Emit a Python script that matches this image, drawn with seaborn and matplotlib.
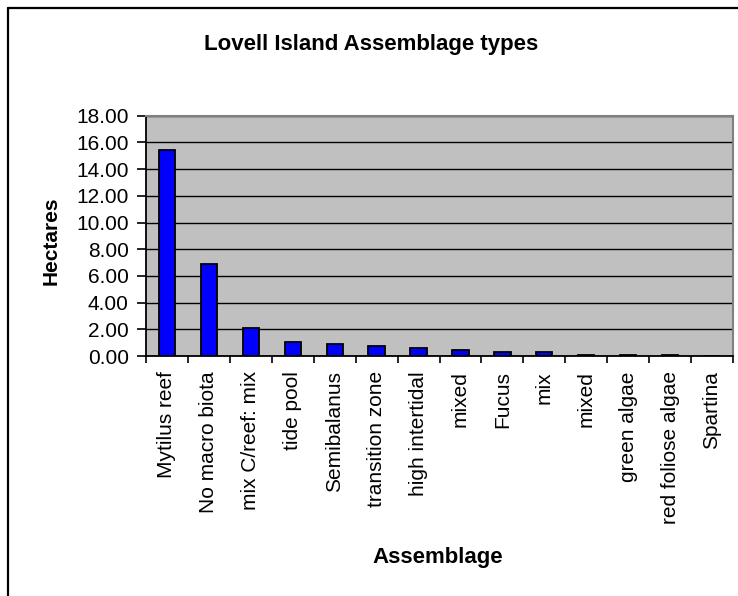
import numpy as np
import pandas as pd
import matplotlib
matplotlib.use("Agg")
import matplotlib.pyplot as plt
from matplotlib.lines import Line2D
import seaborn as sns

# Assemblage areas on Lovell Island (hectares)
assemblages = [
    "Mytilus reef", "No macro biota", "mix C/reef: mix", "tide pool",
    "Semibalanus", "transition zone", "high intertidal", "mixed",
    "Fucus", "mix", "mixed", "green algae", "red foliose algae", "Spartina",
]
hectares = [15.43, 6.92, 2.07, 1.02, 0.87, 0.72, 0.57, 0.42,
            0.28, 0.28, 0.10, 0.10, 0.10, 0.01]
y_ticks = [0, 2, 4, 6, 8, 10, 12, 14, 16, 18]

sns.set_theme(style="white")
plt.rcParams["font.family"] = ["Liberation Sans", "DejaVu Sans"]
plt.rcParams["text.color"] = "black"
plt.rcParams["axes.labelcolor"] = "black"
plt.rcParams["xtick.color"] = "black"
plt.rcParams["ytick.color"] = "black"

W, H = 738, 596
fig = plt.figure(figsize=(W / 100, H / 100), dpi=100)
fig.patch.set_facecolor("white")

# outer chart frame (left and top edges visible)
fig.add_artist(Line2D([8 / W, 8 / W], [-0.05, 1 - 8 / H], color="black",
                      lw=1.6, transform=fig.transFigure))
fig.add_artist(Line2D([8 / W, 1.05], [1 - 8 / H, 1 - 8 / H], color="black",
                      lw=1.6, transform=fig.transFigure))

left, right, top, bottom = 146, 733, 115.7, 356
ax = fig.add_axes([left / W, 1 - bottom / H, (right - left) / W, (bottom - top) / H])
ax.set_facecolor("#C0C0C0")

df = pd.DataFrame({"pos": np.arange(len(assemblages)), "Hectares": hectares})
sns.barplot(data=df, x="pos", y="Hectares", ax=ax, color="#0000FF",
            saturation=1, width=0.39, edgecolor="black", linewidth=1.3,
            errorbar=None)

ax.set_xlim(-0.5, len(assemblages) - 0.5)
ax.set_ylim(0, 18)
ax.set_yticks(y_ticks)
ax.set_yticklabels([f"{v:.2f}" for v in y_ticks])
ax.yaxis.grid(True, color="black", lw=1.0)
ax.set_axisbelow(True)

# category boundaries as major ticks, names on minor ticks
ax.set_xticks(np.arange(-0.5, len(assemblages), 1))
ax.set_xticklabels([])
ax.set_xticks(np.arange(len(assemblages)), minor=True)
ax.set_xticklabels(assemblages, minor=True, rotation=90, ha="center", va="top",
                   fontsize=15, color="black")
ax.tick_params(axis="x", which="major", direction="out", length=5, width=1.2,
               color="black", bottom=True)
ax.tick_params(axis="x", which="minor", length=0, pad=11)
ax.tick_params(axis="y", which="major", direction="out", length=6.5, width=1.2,
               color="black", labelcolor="black", left=True, labelsize=15, pad=6)

for side in ("left", "bottom"):
    ax.spines[side].set_color("black")
    ax.spines[side].set_linewidth(1.3)
for side in ("top", "right"):
    ax.spines[side].set_color("#808080")
    ax.spines[side].set_linewidth(1.5)
    ax.spines[side].set_visible(True)

ax.set_xlabel("")
ax.set_ylabel("")

fig.text(371.5 / W, 1 - 50 / H, "Lovell Island Assemblage types",
         ha="center", va="baseline", fontsize=16, fontweight="bold",
         color="black")
fig.text(51 / W, 1 - 241 / H, "Hectares", rotation=90, ha="center",
         va="center", fontsize=15, fontweight="bold", color="black")
fig.text(437.5 / W, 1 - 563 / H, "Assemblage", ha="center", va="baseline",
         fontsize=16, fontweight="bold", color="black")

fig.savefig("out.png", dpi=100, facecolor="white")
